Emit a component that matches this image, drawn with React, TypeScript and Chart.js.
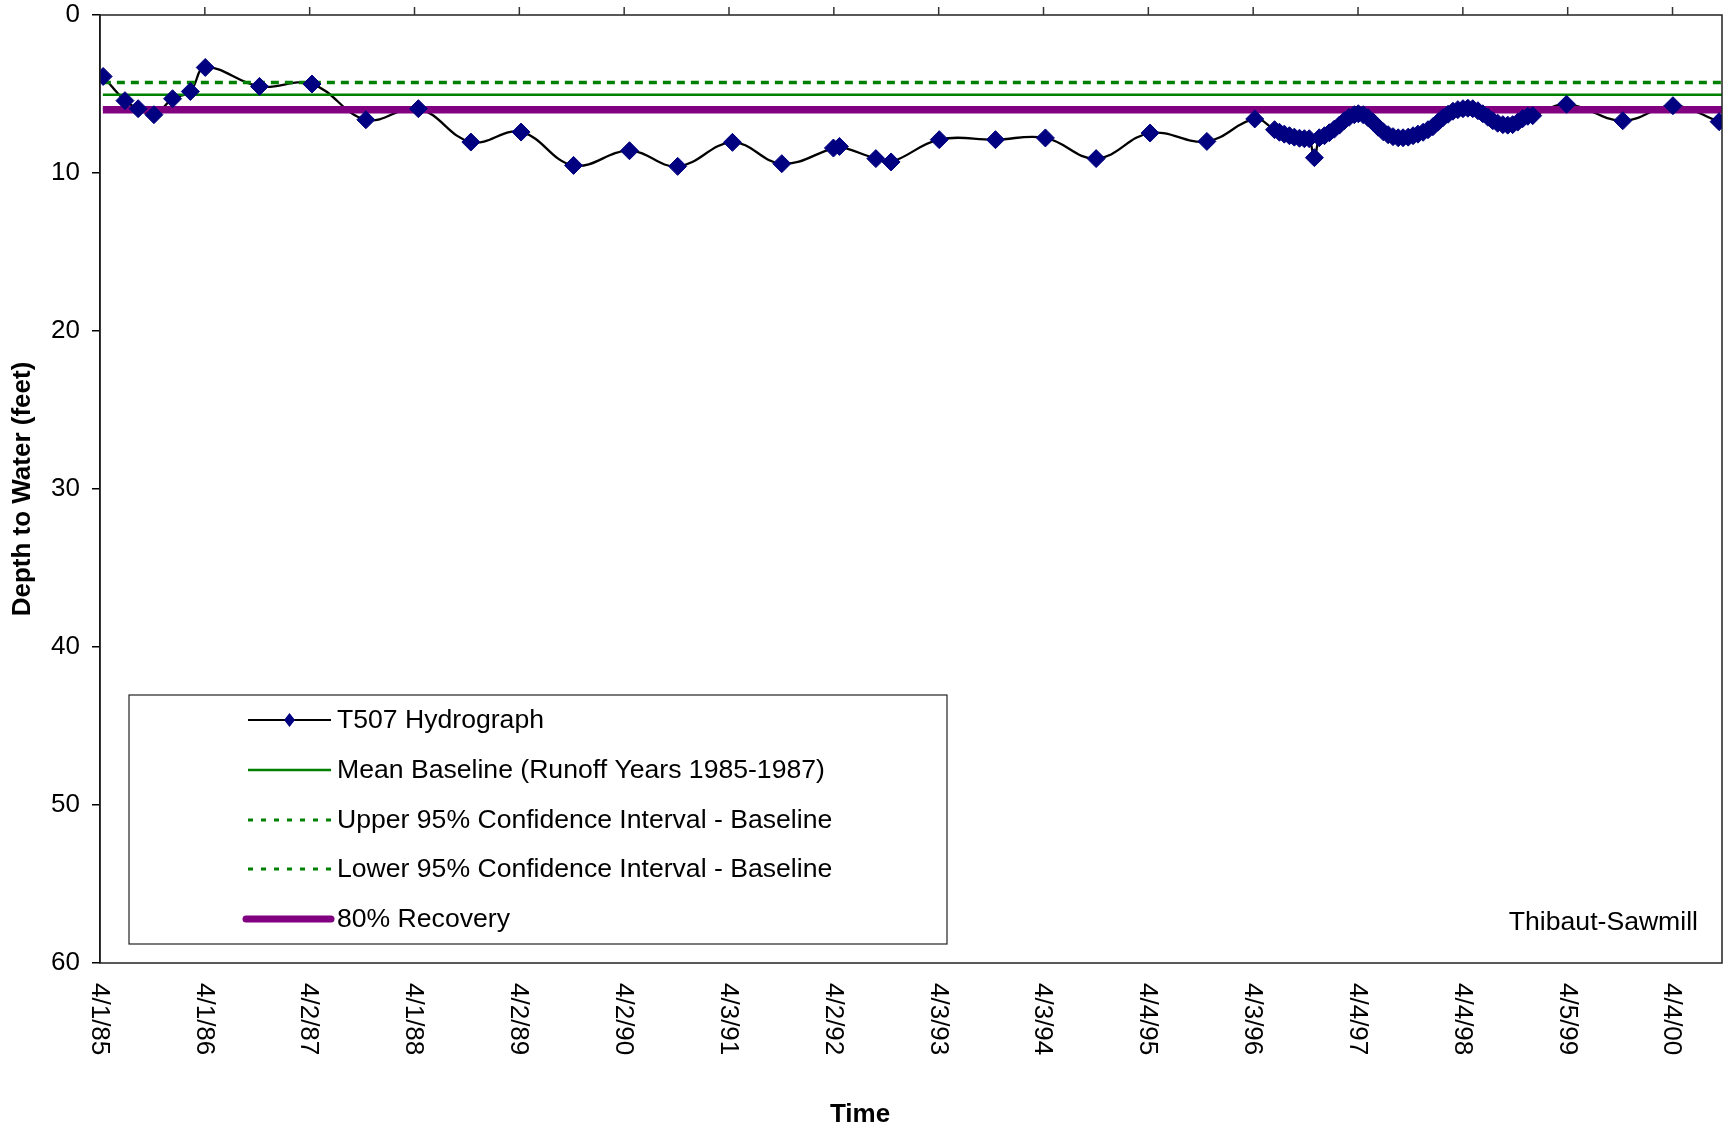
import React, { useEffect, useRef } from 'react';
import { Chart, registerables } from 'chart.js';

Chart.register(...registerables);

const FONT_FAMILY = '"Liberation Sans", Arial, Helvetica, sans-serif';

// x values: days since 4/1/1985 ; y values: depth to water (feet)
const hydroDays = [
  11, 87, 133, 188, 253, 315, 367, 556, 739, 927, 1110, 1293, 1468, 1651, 1846, 2014,
  2205, 2377, 2557, 2578, 2705, 2758, 2926, 3122, 3296, 3473, 3661, 3859, 4026,
  4095, 4112, 4129, 4147, 4164, 4182, 4199, 4216, 4234, 4251, 4269, 4286, 4303, 4321,
  4338, 4355, 4373, 4387, 4404, 4421, 4439, 4456, 4474, 4491, 4508, 4526, 4543, 4561,
  4578, 4595, 4613, 4630, 4647, 4665, 4682, 4700, 4717, 4734, 4752, 4769, 4786, 4804,
  4821, 4839, 4856, 4873, 4891, 4908, 4925, 4943, 4960, 4978, 4995,
  5113, 5309, 5484, 5645,
];
const hydroDepths = [
  3.89, 5.42, 5.93, 6.31, 5.3, 4.84, 3.32, 4.52, 4.37, 6.63, 5.93, 8.04, 7.41, 9.52, 8.59, 9.58,
  8.06, 9.41, 8.42, 8.32, 9.09, 9.3, 7.89, 7.89, 7.78, 9.09, 7.47, 8.0, 6.58,
  7.26, 7.42, 7.54, 7.64, 7.73, 7.8, 7.83, 7.83, 9.03, 7.77, 7.64, 7.45, 7.23, 6.97,
  6.69, 6.47, 6.31, 6.25, 6.31, 6.5, 6.78, 7.1, 7.39, 7.58, 7.7, 7.77, 7.77, 7.73,
  7.64, 7.54, 7.42, 7.26, 7.07, 6.78, 6.5, 6.28, 6.09, 5.99, 5.93, 5.9, 5.93, 6.06,
  6.25, 6.47, 6.69, 6.85, 6.94, 6.97, 6.94, 6.78, 6.56, 6.41, 6.37,
  5.65, 6.69, 5.74, 6.75,
];

const baselineSpanDays = [10, 5655];
const meanBaseline = 5.04;
const upperCI = 4.28;
const lowerCI = 5.95;
const recovery80 = 6.0;

const xStepDays = 365.5;
const xMaxDays = 5655;
const yMin = 0;
const yMax = 60;
const yStep = 10;

const seriesLabels = [
  'T507 Hydrograph',
  'Mean Baseline (Runoff Years 1985-1987)',
  'Upper 95% Confidence Interval - Baseline',
  'Lower 95% Confidence Interval - Baseline',
  '80% Recovery',
];
const yTitle = 'Depth to Water (feet)';
const xTitle = 'Time';
const siteLabel = 'Thibaut-Sawmill';

const NAVY = '#000080';
const GREEN = '#008000';
const PURPLE = '#800080';

function fmtDate(days: number): string {
  const d = new Date(1985, 3, 1 + Math.floor(days + 1e-6));
  const yy = String(d.getFullYear() % 100).padStart(2, '0');
  return `${d.getMonth() + 1}/${d.getDate()}/${yy}`;
}

const decorPlugin = {
  id: 'decor',
  afterDraw(chart: any) {
    const ctx = chart.ctx as CanvasRenderingContext2D;
    const area = chart.chartArea;
    const xs = chart.scales.x;
    ctx.save();

    // plot-area border
    ctx.strokeStyle = '#222';
    ctx.lineWidth = 1.5;
    ctx.strokeRect(area.left, area.top, area.right - area.left, area.bottom - area.top);

    // x ticks on top axis (crosses at 0) and rotated labels at bottom
    ctx.fillStyle = '#000';
    ctx.font = `26px ${FONT_FAMILY}`;
    xs.ticks.forEach((t: any, i: number) => {
      const px = xs.getPixelForValue(t.value);
      if (i > 0) {
        ctx.beginPath();
        ctx.moveTo(px, area.top - 8);
        ctx.lineTo(px, area.top);
        ctx.lineWidth = 1.5;
        ctx.strokeStyle = '#333';
        ctx.stroke();
      }
      ctx.save();
      ctx.translate(px, area.bottom + 20);
      ctx.rotate(Math.PI / 2);
      ctx.textAlign = 'left';
      ctx.textBaseline = 'middle';
      ctx.fillText(fmtDate(t.value), 0, 1);
      ctx.restore();
    });

    // axis titles
    ctx.font = `bold 26px ${FONT_FAMILY}`;
    ctx.textAlign = 'center';
    ctx.textBaseline = 'middle';
    ctx.save();
    ctx.translate(23, (area.top + area.bottom) / 2);
    ctx.rotate(-Math.PI / 2);
    ctx.fillText(yTitle, 0, 0);
    ctx.restore();
    ctx.fillText(xTitle, 860, 1115);

    // legend box
    const bx = 129, by = 695, bw = 818, bh = 249;
    ctx.fillStyle = '#fff';
    ctx.fillRect(bx, by, bw, bh);
    ctx.strokeStyle = '#222';
    ctx.lineWidth = 1.2;
    ctx.strokeRect(bx, by, bw, bh);

    const rows = [720, 770, 820, 869, 919];
    const sx1 = 248, sx2 = 331, tx = 337;
    ctx.lineCap = 'butt';
    // row 1: hydrograph
    ctx.strokeStyle = '#000';
    ctx.lineWidth = 2;
    ctx.beginPath(); ctx.moveTo(sx1, rows[0]); ctx.lineTo(sx2, rows[0]); ctx.stroke();
    ctx.fillStyle = NAVY;
    const cx = (sx1 + sx2) / 2;
    ctx.beginPath();
    ctx.moveTo(cx, rows[0] - 7); ctx.lineTo(cx + 5.5, rows[0]); ctx.lineTo(cx, rows[0] + 7); ctx.lineTo(cx - 5.5, rows[0]);
    ctx.closePath(); ctx.fill();
    // row 2: mean
    ctx.strokeStyle = GREEN; ctx.lineWidth = 2.5;
    ctx.beginPath(); ctx.moveTo(sx1, rows[1]); ctx.lineTo(sx2, rows[1]); ctx.stroke();
    // rows 3,4 dashed
    ctx.lineWidth = 3;
    ctx.setLineDash([5, 8]);
    [rows[2], rows[3]].forEach((ry) => {
      ctx.beginPath(); ctx.moveTo(sx1, ry); ctx.lineTo(sx2, ry); ctx.stroke();
    });
    ctx.setLineDash([]);
    // row 5 purple
    ctx.strokeStyle = PURPLE; ctx.lineWidth = 7; ctx.lineCap = 'round';
    ctx.beginPath(); ctx.moveTo(sx1 - 2, rows[4]); ctx.lineTo(sx2, rows[4]); ctx.stroke();
    ctx.lineCap = 'butt';

    ctx.fillStyle = '#000';
    ctx.font = `26.6px ${FONT_FAMILY}`;
    ctx.textAlign = 'left';
    ctx.textBaseline = 'middle';
    seriesLabels.forEach((lab, i) => ctx.fillText(lab, tx, rows[i] + 1));

    // site label
    ctx.textAlign = 'right';
    ctx.fillText(siteLabel, 1698, 923);

    ctx.restore();
  },
};

export default function App() {
  const canvasRef = useRef<HTMLCanvasElement | null>(null);

  useEffect(() => {
    const canvas = canvasRef.current;
    if (!canvas) return;
    const points = hydroDays.map((x, i) => ({ x, y: hydroDepths[i] }));
    const hline = (v: number) => baselineSpanDays.map((x) => ({ x, y: v }));

    const chart = new Chart(canvas, {
      type: 'line',
      data: {
        datasets: [
          {
            label: seriesLabels[0],
            data: points,
            showLine: false,
            pointStyle: 'rectRot',
            pointRadius: 9,
            pointBackgroundColor: NAVY,
            pointBorderColor: NAVY,
            pointBorderWidth: 1,
            order: 0,
          },
          {
            label: seriesLabels[4],
            data: hline(recovery80),
            borderColor: PURPLE,
            borderWidth: 7.5,
            pointRadius: 0,
            order: 1,
          },
          {
            label: seriesLabels[3],
            data: hline(lowerCI),
            borderColor: GREEN,
            borderWidth: 3,
            borderDash: [7, 6],
            pointRadius: 0,
            order: 2,
          },
          {
            label: seriesLabels[2],
            data: hline(upperCI),
            borderColor: GREEN,
            borderWidth: 3.5,
            borderDash: [8, 6],
            pointRadius: 0,
            order: 3,
          },
          {
            label: seriesLabels[1],
            data: hline(meanBaseline),
            borderColor: GREEN,
            borderWidth: 2.5,
            pointRadius: 0,
            order: 4,
          },
          {
            label: seriesLabels[0] + ' (line)',
            data: points,
            borderColor: '#000',
            borderWidth: 2.3,
            pointRadius: 0,
            tension: 0.4,
            order: 5,
          },
        ],
      } as any,
      options: {
        responsive: false,
        maintainAspectRatio: false,
        animation: false,
        layout: { padding: { top: 15, right: 5, left: 0, bottom: 0 } },
        plugins: { legend: { display: false }, tooltip: { enabled: false } },
        scales: {
          x: {
            type: 'linear',
            min: 0,
            max: xMaxDays,
            ticks: { stepSize: xStepDays, display: false, includeBounds: false, maxTicksLimit: 40 },
            grid: { display: false },
            border: { display: false },
            afterFit: (s: any) => { s.height = 168; s.paddingLeft = 0; s.paddingRight = 0; },
          },
          y: {
            type: 'linear',
            reverse: true,
            min: yMin,
            max: yMax,
            ticks: {
              stepSize: yStep,
              color: '#000',
              padding: 12,
              font: { family: FONT_FAMILY, size: 26 },
            },
            grid: { drawOnChartArea: false, drawTicks: true, tickLength: 8, color: '#000', lineWidth: 1.5 },
            border: { display: true, color: '#000', width: 1.5 },
            afterFit: (s: any) => { s.width = 100; s.paddingTop = 0; s.paddingBottom = 0; },
          },
        },
      } as any,
      plugins: [decorPlugin],
    });
    return () => chart.destroy();
  }, []);

  return (
    <div style={{ position: 'absolute', left: 0, top: 0, width: 1732, height: 1131, background: '#fff' }}>
      <canvas ref={canvasRef} width={1732} height={1131} style={{ display: 'block' }} />
    </div>
  );
}
